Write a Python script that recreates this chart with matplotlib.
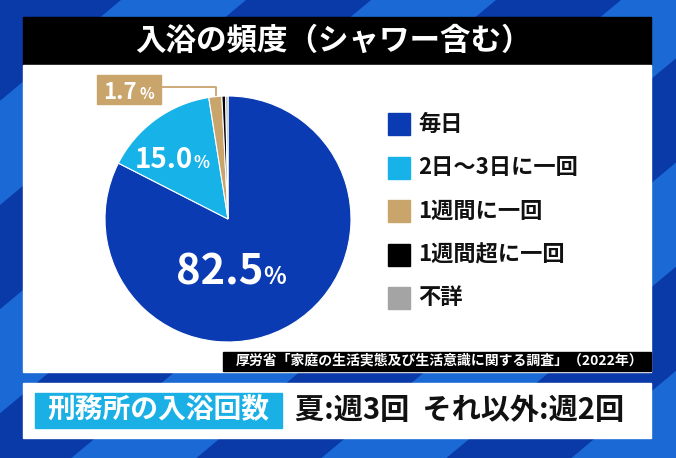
import numpy as np
import matplotlib
matplotlib.use('Agg')
import matplotlib.pyplot as plt
from matplotlib.patches import Rectangle, Polygon

plt.rcParams['font.family'] = ['Noto Sans CJK JP', 'DejaVu Sans']
plt.rcParams['font.weight'] = 'bold'

# data
labels = ['毎日', '2日～3日に一回', '1週間に一回', '1週間超に一回', '不詳']
values = [82.5, 15.0, 1.7, 0.5, 0.3]
colors = ['#0b3bb2', '#16b2e8', '#c9a46b', '#000000', '#a4a4a4']
title = '入浴の頻度（シャワー含む）'
source = '厚労省「家庭の生活実態及び生活意識に関する調査」（2022年）'
box_label = '刑務所の入浴回数'
box_text = '夏:週3回  それ以外:週2回'

W, H = 676, 458
fig = plt.figure(figsize=(W / 100, H / 100), dpi=100)

# background layer in pixel coords
bg = fig.add_axes([0, 0, 1, 1])
bg.set_xlim(0, W)
bg.set_ylim(H, 0)
bg.axis('off')
bg.add_patch(Rectangle((0, 0), W, H, color='#0a39a8', zorder=0))
for k in range(-1, 6):
    x0 = 121 + 250 * k
    bg.add_patch(Polygon([(x0, 0), (x0 + 125, 0), (x0 + 125 - 1.2 * H, H), (x0 - 1.2 * H, H)],
                         closed=True, color='#1a69d4', zorder=0.5, lw=0))

# panels
bg.add_patch(Rectangle((23, 17), 628, 48, color='black', zorder=1))
bg.add_patch(Rectangle((23, 65), 628, 307, color='white', zorder=1))
bg.add_patch(Rectangle((223, 352), 428, 19, color='black', zorder=2))
bg.add_patch(Rectangle((23, 383), 628, 55, color='white', zorder=1))
bg.add_patch(Rectangle((35, 393), 247, 35, color='#1ab0e6', zorder=2))

bg.text(333, 41, title, color='white', fontsize=22, ha='center', va='center', zorder=3)
bg.text(440, 361, source, color='white', fontsize=10, ha='center', va='center', zorder=3)
bg.text(158, 410, box_label, color='white', fontsize=20, ha='center', va='center', zorder=3)
bg.text(295, 410, box_text, color='#111111', fontsize=21, ha='left', va='center', zorder=3)

# pie
cx, cy, r = 228, 219, 123
pax = fig.add_axes([(cx - r) / W, 1 - (cy + r) / H, 2 * r / W, 2 * r / H])
pax.pie(values, colors=colors, startangle=90, counterclock=False,
        wedgeprops=dict(edgecolor='white', linewidth=0.8))
pax.set_xlim(-1, 1)
pax.set_ylim(-1, 1)

pax.text(0.285, -0.53, f'{values[0]:.1f}', color='white', fontsize=30, ha='right', va='baseline')
pax.text(0.29, -0.53, '%', color='white', fontsize=17, ha='left', va='baseline')
pax.text(-0.285, 0.415, f'{values[1]:.1f}', color='white', fontsize=20, ha='right', va='baseline')
pax.text(-0.28, 0.415, '%', color='white', fontsize=12, ha='left', va='baseline')

# 1.7% callout
bg.add_patch(Rectangle((97, 75), 64, 29, color=colors[2], zorder=2))
bg.text(137, 99, f'{values[2]:.1f}', color='white', fontsize=16, ha='right', va='baseline', zorder=3)
bg.text(139, 99, '%', color='white', fontsize=11, ha='left', va='baseline', zorder=3)
mid = np.radians(90 - 3.6 * (values[0] + values[1] + values[2] / 2))
ex = cx + r * 0.93 * np.cos(mid)
ey = cy - r * 0.93 * np.sin(mid)
bg.plot([161, ex, ex], [87, 87, ey], color=colors[2], lw=1.3, zorder=2)

# legend
for i, (lab, col) in enumerate(zip(labels, colors)):
    y = 124 + i * 43.5
    bg.add_patch(Rectangle((388, y - 11), 22, 22, color=col, zorder=2))
    bg.text(418, y, lab, color='#111111', fontsize=16, ha='left', va='center', zorder=3)

fig.savefig('out.png', dpi=100)
